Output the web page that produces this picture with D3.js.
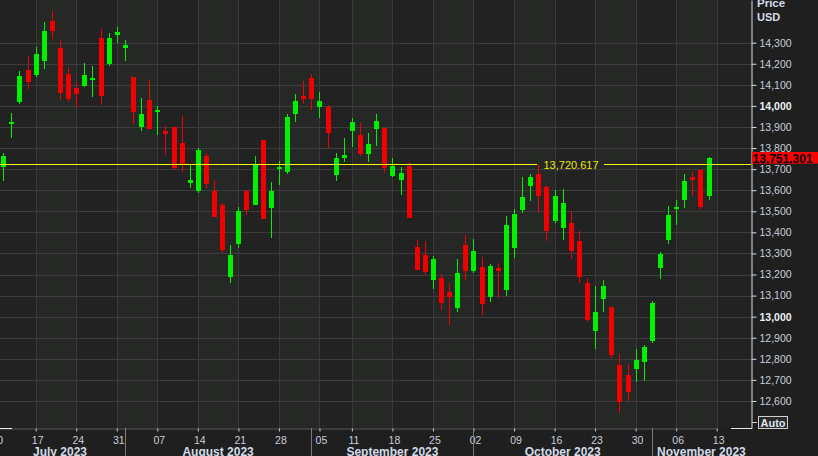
<!DOCTYPE html>
<html><head><meta charset="utf-8">
<script src="https://cdn.jsdelivr.net/npm/d3@7"></script>
<style>
html,body{margin:0;padding:0;background:#1f1f1f;overflow:hidden}
svg{display:block}
</style></head><body>
<svg id="chart" width="818" height="456"></svg>
<script>
// ---------- data ----------
const dates = [
"2023-07-11","2023-07-12","2023-07-13","2023-07-14",
"2023-07-17","2023-07-18","2023-07-19","2023-07-20","2023-07-21",
"2023-07-24","2023-07-25","2023-07-26","2023-07-27","2023-07-28",
"2023-07-31","2023-08-01","2023-08-02","2023-08-03","2023-08-04",
"2023-08-07","2023-08-08","2023-08-09","2023-08-10","2023-08-11",
"2023-08-14","2023-08-15","2023-08-16","2023-08-17","2023-08-18",
"2023-08-21","2023-08-22","2023-08-23","2023-08-24","2023-08-25",
"2023-08-28","2023-08-29","2023-08-30","2023-08-31","2023-09-01",
"2023-09-05","2023-09-06","2023-09-07","2023-09-08",
"2023-09-11","2023-09-12","2023-09-13","2023-09-14","2023-09-15",
"2023-09-18","2023-09-19","2023-09-20","2023-09-21","2023-09-22",
"2023-09-25","2023-09-26","2023-09-27","2023-09-28","2023-09-29",
"2023-10-02","2023-10-03","2023-10-04","2023-10-05","2023-10-06",
"2023-10-09","2023-10-10","2023-10-11","2023-10-12","2023-10-13",
"2023-10-16","2023-10-17","2023-10-18","2023-10-19","2023-10-20",
"2023-10-23","2023-10-24","2023-10-25","2023-10-26","2023-10-27",
"2023-10-30","2023-10-31","2023-11-01","2023-11-02","2023-11-03",
"2023-11-06","2023-11-07","2023-11-08","2023-11-09","2023-11-10"];
const pastDays = ["2023-07-10"];
const futureDays = ["2023-11-13","2023-11-14","2023-11-15","2023-11-16","2023-11-17"];

const openV = [13712,13914,14020,14170,14147,14214,14403,14275,14151,14085,
14094,14124,14322,14199,14338,14276,14137,13901,14028,13972,
13881,13900,13824,13634,13598,13762,13596,13530,13190,13346,
13596,13531,13838,13517,13699,13688,13963,14047,14132,13995,
13995,13674,13754,13882,13862,13773,13892,13895,13669,13648,
13716,13332,13294,13175,13183,13117,13043,13340,13217,13237,
13095,13231,13128,13327,13507,13620,13677,13615,13455,13422,
13444,13359,13160,12933,13085,13046,12771,12723,12753,12786,
12885,13232,13365,13512,13555,13663,13696,13574];
const highV = [13775,13965,14166,14237,14280,14398,14450,14313,14183,14115,
14204,14189,14365,14346,14374,14313,14137,14037,14123,14000,
13905,13900,13954,13722,13800,13775,13648,13538,13340,13520,
13601,13762,13838,13639,13739,13962,14057,14118,14151,14066,
14004,13777,13848,13943,13919,13871,13962,13895,13753,13710,
13734,13364,13359,13286,13204,13160,13274,13387,13368,13283,
13250,13255,13479,13511,13663,13678,13724,13625,13601,13604,
13501,13406,13183,13145,13174,13046,12823,12775,12848,12867,
13074,13307,13525,13554,13677,13686,13696,13758];
const lowV = [13645,13846,14010,14079,14139,14175,14317,14028,14020,13995,
14088,14044,14004,14189,14297,14213,13916,13882,13892,13863,
13767,13697,13688,13612,13585,13612,13474,13303,13161,13327,
13482,13531,13463,13375,13625,13678,13925,14010,13982,13944,
13802,13645,13735,13806,13764,13735,13811,13683,13664,13579,
13470,13223,13199,13133,13032,12960,13024,13175,13206,13009,
13071,13089,13099,13280,13493,13550,13493,13360,13446,13366,
13275,13158,12976,12848,13024,12805,12544,12601,12691,12696,
12875,13180,13346,13436,13517,13574,13506,13555];
const closeV = [13762,13924,14142,14115,14246,14355,14357,14063,14034,14058,
14147,14132,14048,14322,14351,14289,13972,13962,13892,13982,
13868,13707,13724,13648,13791,13631,13474,13316,13293,13501,
13507,13721,13463,13596,13712,13947,14023,14034,14033,14023,
13873,13753,13767,13924,13773,13819,13928,13707,13715,13683,
13470,13223,13213,13274,13066,13095,13209,13218,13312,13061,
13242,13218,13435,13487,13568,13663,13574,13408,13573,13539,
13313,13187,12986,13022,13147,12820,12597,12644,12794,12856,
13065,13297,13482,13520,13644,13650,13522,13751.301];

const refLevel = 13720.617;
const lastPrice = 13751.301;

const yTicks = [12600,12700,12800,12900,13000,13100,13200,13300,13400,13500,13600,13700,13800,13900,14000,14100,14200,14300];
const tickDates = ["2023-07-10","2023-07-17","2023-07-24","2023-07-31","2023-08-07","2023-08-14","2023-08-21","2023-08-28","2023-09-05","2023-09-11","2023-09-18","2023-09-25","2023-10-02","2023-10-09","2023-10-16","2023-10-23","2023-10-30","2023-11-06","2023-11-13"];
const tickLabels = ["10","17","24","31","07","14","21","28","05","11","18","25","02","09","16","23","30","06","13"];
const monthStarts = ["2023-07-10","2023-08-01","2023-09-01","2023-10-02","2023-11-01"];
const monthLabels = ["July 2023","August 2023","September 2023","October 2023","November 2023"];

// ---------- layout ----------
const W = 818, H = 456;
const plotR = 751, plotB = 428;
const allDays = pastDays.concat(dates, futureDays);
const idx = d => allDays.indexOf(d);

const x = d3.scaleLinear().domain([idx("2023-07-10"), idx("2023-11-13")]).range([-4.84, 716.7]);
const y = d3.scaleLinear().domain([12471.7, 14502.5]).range([plotB, 0]);

const svg = d3.select("#chart");
const font = "'Liberation Sans', Arial, sans-serif";

svg.append("rect").attr("width", W).attr("height", H).attr("fill", "#1f1f1f");
svg.append("defs").append("clipPath").attr("id", "clip")
  .append("rect").attr("x", 0).attr("y", 0).attr("width", plotR).attr("height", plotB);

const plot = svg.append("g").attr("clip-path", "url(#clip)");
plot.append("rect").attr("width", plotR).attr("height", plotB).attr("fill", "#222223");

// alternating week bands
const tickX = tickDates.map(d => x(idx(d)));
const bands = [];
for (let i = 1; i < tickX.length - 1; i += 2) bands.push([tickX[i], tickX[i + 1]]);
plot.selectAll("rect.band").data(bands).join("rect")
  .attr("class", "band")
  .attr("x", d => Math.round(d[0])).attr("width", d => Math.round(d[1]) - Math.round(d[0]))
  .attr("y", 0).attr("height", plotB).attr("fill", "#262825");

// grid
plot.selectAll("line.hg").data(yTicks).join("line")
  .attr("x1", 0).attr("x2", plotR)
  .attr("y1", d => Math.round(y(d)) + 0.5).attr("y2", d => Math.round(y(d)) + 0.5)
  .attr("stroke", "#3c3c3c").attr("stroke-width", 1);
plot.selectAll("line.vg").data(tickX).join("line")
  .attr("y1", 0).attr("y2", plotB)
  .attr("x1", d => Math.round(d) + 0.5).attr("x2", d => Math.round(d) + 0.5)
  .attr("stroke", "#3a3a3a").attr("stroke-width", 1);

// candles
const candles = dates.map((d, i) => ({ d, o: openV[i], h: highV[i], l: lowV[i], c: closeV[i] }));
const cg = plot.append("g").attr("shape-rendering", "crispEdges");
cg.selectAll("line.wick").data(candles).join("line")
  .attr("x1", d => Math.round(x(idx(d.d))) + 0.5).attr("x2", d => Math.round(x(idx(d.d))) + 0.5)
  .attr("y1", d => y(d.h)).attr("y2", d => y(d.l))
  .attr("stroke", d => d.c >= d.o ? "#00f000" : "#f00000").attr("stroke-width", 1);
cg.selectAll("rect.body").data(candles).join("rect")
  .attr("x", d => Math.round(x(idx(d.d))) - 2).attr("width", 5)
  .attr("y", d => y(Math.max(d.o, d.c)))
  .attr("height", d => Math.max(2, y(Math.min(d.o, d.c)) - y(Math.max(d.o, d.c))))
  .attr("fill", d => d.c >= d.o ? "#00f000" : "#f00000");

// reference level line with label
const ry = Math.floor(y(refLevel)) + 0.5;
const lg = plot.append("g").attr("shape-rendering", "crispEdges");
lg.append("line").attr("x1", 0).attr("x2", 537).attr("y1", ry).attr("y2", ry)
  .attr("stroke", "#ffff00").attr("stroke-width", 1.5);
lg.append("line").attr("x1", 604).attr("x2", plotR).attr("y1", ry).attr("y2", ry)
  .attr("stroke", "#ffff00").attr("stroke-width", 1.5);
plot.append("text").attr("x", 571).attr("y", y(refLevel) + 4)
  .attr("text-anchor", "middle").attr("font-family", font).attr("font-size", 11)
  .attr("fill", "#eaea00").text(d3.format(",.3f")(refLevel));

// y axis
const yAxis = d3.axisRight(y).tickValues(yTicks).tickFormat(d3.format(",")).tickSize(5).tickSizeOuter(0).tickPadding(3);
const yg = svg.append("g").attr("transform", `translate(${plotR + 0.5},0)`).call(yAxis);
yg.select(".domain").attr("stroke", "#e0e0e0");
yg.selectAll(".tick line").attr("stroke", "#d8d8d8");
yg.selectAll(".tick text").attr("font-family", font).attr("font-size", 10.5)
  .attr("fill", d => d % 1000 === 0 ? "#eef2f8" : "#c6cfdc")
  .attr("font-weight", d => d % 1000 === 0 ? "bold" : "normal");

// x axis
const xAxis = d3.axisBottom(x).tickValues(tickDates.map(idx)).tickFormat((d, i) => tickLabels[i]).tickSize(3).tickSizeOuter(0).tickPadding(5);
const xg = svg.append("g").attr("transform", `translate(0,${plotB + 0.5})`).call(xAxis);
xg.select(".domain").attr("stroke", "#5a5a5a");
xg.selectAll(".tick line").attr("stroke", "#cfcfcf");
xg.selectAll(".tick text").attr("font-family", font).attr("font-size", 10.5)
  .attr("fill", "#c6cfdc").attr("dx", 1.5);
// range indicator segments on axis line
svg.append("line").attr("x1", 0).attr("x2", 12).attr("y1", plotB + 0.5).attr("y2", plotB + 0.5).attr("stroke", "#e8e8e8");
svg.append("line").attr("x1", 731).attr("x2", plotR + 1).attr("y1", plotB + 0.5).attr("y2", plotB + 0.5).attr("stroke", "#e8e8e8");

// month separators and labels
const mx = monthStarts.map(d => x(idx(d)));
svg.selectAll("line.msep").data(mx.slice(1)).join("line")
  .attr("x1", d => Math.round(d) + 0.5).attr("x2", d => Math.round(d) + 0.5)
  .attr("y1", plotB).attr("y2", H).attr("stroke", "#7a7a7a");
svg.selectAll("text.mlab").data(monthLabels).join("text")
  .attr("x", (d, i) => (mx[i] + Math.min(i + 1 < mx.length ? mx[i + 1] : plotR, plotR)) / 2)
  .attr("y", 456).attr("text-anchor", "middle")
  .attr("font-family", font).attr("font-size", 12).attr("font-weight", "bold")
  .attr("fill", "#d2dbe8").text(d => d);

// axis title
svg.append("text").attr("x", 757).attr("y", 6.5).attr("font-family", font).attr("font-size", 11.5)
  .attr("font-weight", "bold").attr("fill", "#d4dce8").text("Price");
svg.append("text").attr("x", 757).attr("y", 21.3).attr("font-family", font).attr("font-size", 11)
  .attr("font-weight", "bold").attr("fill", "#d4dce8").text("USD");

// last price tag
const ly = y(lastPrice);
svg.append("rect").attr("x", plotR + 1).attr("y", ly - 6.3).attr("width", W - plotR - 1).attr("height", 11.6).attr("fill", "#ff0000");
svg.append("text").attr("x", 752.5).attr("y", ly + 4.2).attr("font-family", font).attr("font-size", 12)
  .attr("font-weight", "bold").attr("fill", "#000").text(d3.format(",.3f")(lastPrice));

// Auto button
svg.append("line").attr("x1", 752).attr("x2", 757).attr("y1", 422.5).attr("y2", 422.5).attr("stroke", "#d8d8d8");
svg.append("rect").attr("x", 758.5).attr("y", 416.5).attr("width", 29).attr("height", 12)
  .attr("fill", "#2a2a2a").attr("stroke", "#d0d0d0").attr("stroke-width", 1);
svg.append("text").attr("x", 773).attr("y", 426.5).attr("text-anchor", "middle")
  .attr("font-family", font).attr("font-size", 11).attr("font-weight", "bold")
  .attr("fill", "#dde5f0").text("Auto");
</script>
</body></html>
